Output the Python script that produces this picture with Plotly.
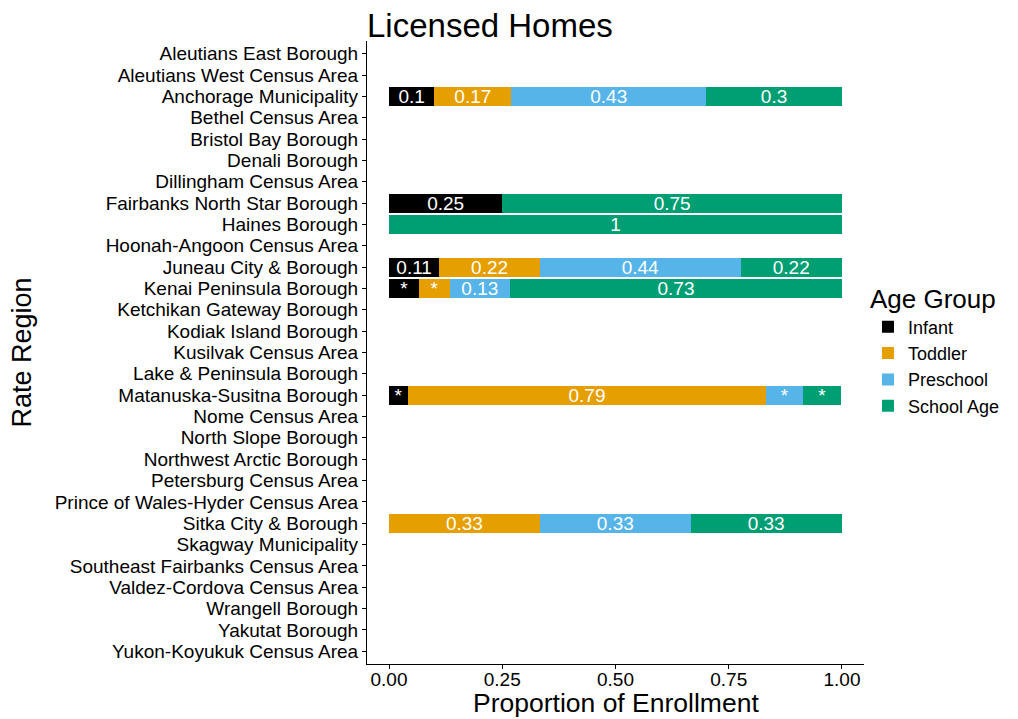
import plotly.graph_objects as go

regions = [
    "Aleutians East Borough", "Aleutians West Census Area", "Anchorage Municipality",
    "Bethel Census Area", "Bristol Bay Borough", "Denali Borough", "Dillingham Census Area",
    "Fairbanks North Star Borough", "Haines Borough", "Hoonah-Angoon Census Area",
    "Juneau City & Borough", "Kenai Peninsula Borough", "Ketchikan Gateway Borough",
    "Kodiak Island Borough", "Kusilvak Census Area", "Lake & Peninsula Borough",
    "Matanuska-Susitna Borough", "Nome Census Area", "North Slope Borough",
    "Northwest Arctic Borough", "Petersburg Census Area", "Prince of Wales-Hyder Census Area",
    "Sitka City & Borough", "Skagway Municipality", "Southeast Fairbanks Census Area",
    "Valdez-Cordova Census Area", "Wrangell Borough", "Yakutat Borough",
    "Yukon-Koyukuk Census Area",
]

age_groups = ["Infant", "Toddler", "Preschool", "School Age"]
colors = ["#000000", "#E69F00", "#56B4E9", "#009E73"]

# proportions per region with data
infant = {"Anchorage Municipality": 0.10, "Fairbanks North Star Borough": 0.25,
          "Juneau City & Borough": 0.111, "Kenai Peninsula Borough": 0.067,
          "Matanuska-Susitna Borough": 0.042}
toddler = {"Anchorage Municipality": 0.17, "Juneau City & Borough": 0.222,
           "Kenai Peninsula Borough": 0.067, "Matanuska-Susitna Borough": 0.79,
           "Sitka City & Borough": 0.333}
preschool = {"Anchorage Municipality": 0.43, "Juneau City & Borough": 0.444,
             "Kenai Peninsula Borough": 0.133, "Matanuska-Susitna Borough": 0.083,
             "Sitka City & Borough": 0.333}
school_age = {"Anchorage Municipality": 0.30, "Fairbanks North Star Borough": 0.75,
              "Haines Borough": 1.0, "Juneau City & Borough": 0.222,
              "Kenai Peninsula Borough": 0.733, "Matanuska-Susitna Borough": 0.083,
              "Sitka City & Borough": 0.333}

series = [infant, toddler, preschool, school_age]

x_ticks = [0, 0.25, 0.5, 0.75, 1.0]
x_tick_labels = ["0.00", "0.25", "0.50", "0.75", "1.00"]


def label(v):
    if v is None:
        return ""
    if v < 0.095:
        return "*"
    return f"{v:.2f}".rstrip("0").rstrip(".")


FONT = "Liberation Sans, Arial, sans-serif"

fig = go.Figure()
for name, col, d in zip(age_groups, colors, series):
    xs = [d.get(r) for r in regions]
    fig.add_trace(go.Bar(
        y=regions, x=xs, name=name, orientation="h",
        marker=dict(color=col, line=dict(width=0)),
        text=[label(v) for v in xs],
        textposition="inside", insidetextanchor="middle", textangle=0,
        constraintext="none",
        textfont=dict(color="white", size=19, family=FONT),
        hoverinfo="x+y+name",
    ))

fig.update_layout(
    barmode="stack", bargap=0.1,
    width=1010, height=711,
    paper_bgcolor="white", plot_bgcolor="white",
    margin=dict(l=359, r=154, t=33, b=55),
    font=dict(family=FONT, color="black"),
    title=dict(text="Licensed Homes", xref="paper", x=0, xanchor="left",
               yref="container", y=1 - 17 / 711, yanchor="middle",
               font=dict(size=33, color="black", family=FONT)),
    legend=dict(title=dict(text="Age Group", font=dict(size=26)), font=dict(size=18),
                x=1.008, xanchor="left", y=0.625, yanchor="top",
                traceorder="normal", tracegroupgap=0, itemwidth=30),
    annotations=[
        dict(text="Proportion of Enrollment", xref="paper", yref="paper",
             x=0.5, y=-0.0625, xanchor="center", yanchor="middle", showarrow=False,
             font=dict(size=26.5, color="black", family=FONT)),
        dict(text="Rate Region", xref="paper", yref="paper", textangle=-90,
             x=-0.696, y=0.5, xanchor="center", yanchor="middle", showarrow=False,
             font=dict(size=27, color="black", family=FONT)),
    ],
)
fig.update_xaxes(
    range=[-0.0486, 1.0486], tickmode="array", tickvals=x_ticks, ticktext=x_tick_labels,
    showgrid=False, zeroline=False, showline=True, linecolor="black", linewidth=1.2,
    ticks="outside", ticklen=4, tickcolor="black", tickwidth=1,
    tickfont=dict(size=19, color="black"), ticklabelstandoff=-6,
    automargin=False,
)
fig.update_yaxes(
    type="category", categoryorder="array", categoryarray=regions,
    tickmode="array", tickvals=regions, ticktext=regions,
    range=[len(regions) - 0.4, -0.6],
    showgrid=False, zeroline=False, showline=True, linecolor="black", linewidth=1.2,
    ticks="outside", ticklen=4, tickcolor="black", tickwidth=1,
    tickfont=dict(size=19, color="black"),
    automargin=False,
)

fig.write_html("out.html")
